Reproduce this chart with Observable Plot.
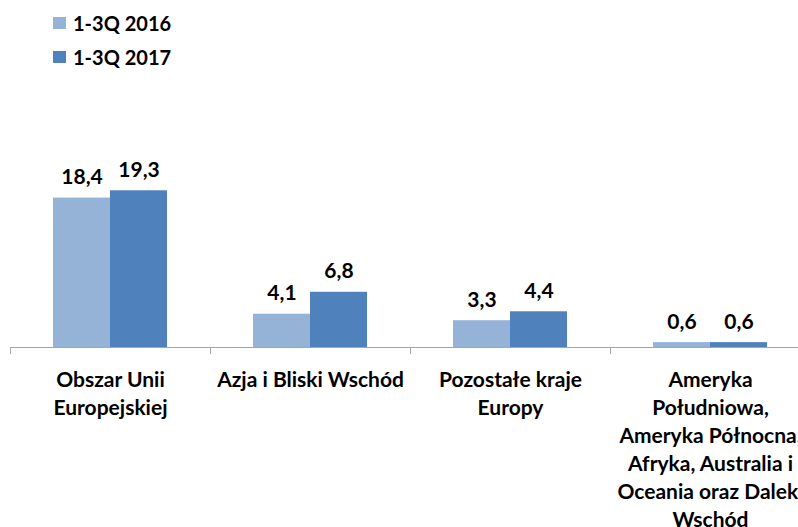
<!DOCTYPE html>
<html>
<head>
<meta charset="utf-8">
<script src="https://cdn.jsdelivr.net/npm/d3@7"></script>
<script src="https://cdn.jsdelivr.net/npm/@observablehq/plot@0.6"></script>
<style>
  html, body { margin: 0; padding: 0; background: #fff; overflow: hidden; }
  #wrap { position: relative; width: 798px; height: 527px; overflow: hidden; font-family: Lato, "Open Sans", sans-serif; }
  #legend { position: absolute; left: 53px; top: 6px; font-size: 20px; font-weight: bold; color: #000; }
  #legend .row { height: 34px; display: flex; align-items: center; }
  #legend .sw { width: 13px; height: 12px; margin-right: 7px; }
  #chart { position: absolute; left: 0; top: 0; width: 810px; }
  #chart svg { max-width: none !important; }
</style>
</head>
<body>
<div id="wrap">
  <div id="chart"></div>
  <div id="legend"></div>
</div>
<script>
const categories = [
  "Obszar Unii Europejskiej",
  "Azja i Bliski Wschód",
  "Pozostałe kraje Europy",
  "Ameryka Południowa, Ameryka Północna, Afryka, Australia i Oceania oraz Daleki Wschód"
];
const tickLabels = [
  "Obszar Unii\nEuropejskiej",
  "Azja i Bliski Wschód",
  "Pozostałe kraje\nEuropy",
  "Ameryka\nPołudniowa,\nAmeryka Północna,\nAfryka, Australia i\nOceania oraz Daleki\nWschód"
];
const series = ["1-3Q 2016", "1-3Q 2017"];
const values2016 = [18.4, 4.1, 3.3, 0.6];
const values2017 = [19.3, 6.8, 4.4, 0.6];
const colors = ["#95b3d7", "#4f81bd"];

const data = [];
categories.forEach((c, i) => {
  data.push({category: c, series: series[0], value: values2016[i]});
  data.push({category: c, series: series[1], value: values2017[i]});
});
const fmt = v => v.toFixed(1).replace(".", ",");

const chart = Plot.plot({
  width: 810,
  height: 527,
  marginLeft: 10,
  marginRight: 0,
  marginTop: 144,
  marginBottom: 180,
  facet: {marginTop: 0, marginRight: 0, marginBottom: 0, marginLeft: 0},
  style: {fontFamily: "Lato, 'Open Sans', sans-serif", background: "#fff", maxWidth: "none"},
  fx: {domain: categories, padding: 0, label: null, range: [10, 810]},
  x: {domain: series, paddingInner: 0, paddingOuter: 0.754, axis: null},
  y: {domain: [0, 25], axis: null, range: [347, 144]},
  color: {domain: series, range: colors},
  marks: [
    Plot.barY(data, {fx: "category", x: "series", y: "value", fill: "series"}),
    Plot.ruleY([0], {stroke: "#a6a6a6", strokeWidth: 1}),
    Plot.text(data, {
      fx: "category", x: "series", y: "value",
      text: d => fmt(d.value),
      lineAnchor: "bottom", dy: -14,
      fontSize: 21, fontWeight: "bold", fill: "#000"
    }),
    Plot.axisFx({anchor: "bottom", tickSize: 7, tickFormat: () => "", dx: -100, stroke: "#a6a6a6", label: null}),
    Plot.axisFx({
      anchor: "bottom", tickSize: 0, tickPadding: 20,
      tickFormat: d => tickLabels[categories.indexOf(d)],
      lineHeight: 1.33, fontSize: 21, fontWeight: "bold", fill: "#000", label: null
    })
  ]
});
document.getElementById("chart").appendChild(chart);

const legend = document.getElementById("legend");
series.forEach((s, i) => {
  const row = document.createElement("div");
  row.className = "row";
  const sw = document.createElement("span");
  sw.className = "sw";
  sw.style.background = colors[i];
  const t = document.createElement("span");
  t.textContent = s;
  row.appendChild(sw);
  row.appendChild(t);
  legend.appendChild(row);
});
</script>
</body>
</html>
